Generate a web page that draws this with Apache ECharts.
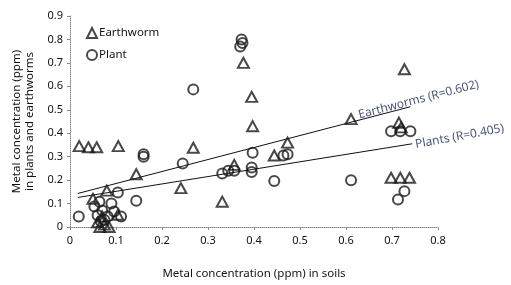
<!DOCTYPE html>
<html>
<head>
<meta charset="utf-8">
<script src="https://cdn.jsdelivr.net/npm/echarts@6/dist/echarts.min.js"></script>
<style>
  html, body { margin: 0; padding: 0; background: #fff; }
  #chart { width: 511px; height: 285px; }
</style>
</head>
<body>
<div id="chart"></div>
<script>
// soil concentration (x) vs. concentration in organism (y), ppm
const earthworm = [
  [0.02, 0.345], [0.04, 0.34], [0.058, 0.34], [0.105, 0.345],
  [0.144, 0.225], [0.241, 0.166], [0.268, 0.338], [0.331, 0.108],
  [0.377, 0.70], [0.395, 0.555], [0.397, 0.43], [0.357, 0.265],
  [0.444, 0.305], [0.473, 0.36], [0.611, 0.46], [0.727, 0.673],
  [0.715, 0.445], [0.72, 0.425], [0.698, 0.21], [0.718, 0.21],
  [0.738, 0.21], [0.05, 0.12], [0.08, 0.155], [0.104, 0.052],
  [0.06, 0.02], [0.065, 0.0], [0.075, 0.01], [0.085, 0.0], [0.07, 0.045]
];
const plant = [
  [0.019, 0.045], [0.104, 0.147], [0.144, 0.112], [0.16, 0.31],
  [0.16, 0.30], [0.245, 0.271], [0.268, 0.587], [0.373, 0.80],
  [0.375, 0.785], [0.37, 0.77], [0.397, 0.317], [0.357, 0.24],
  [0.344, 0.24], [0.331, 0.228], [0.395, 0.254], [0.395, 0.235],
  [0.444, 0.196], [0.473, 0.31], [0.464, 0.305], [0.611, 0.199],
  [0.727, 0.153], [0.713, 0.117], [0.698, 0.408], [0.718, 0.408],
  [0.74, 0.408], [0.053, 0.087], [0.064, 0.108], [0.096, 0.066],
  [0.082, 0.045], [0.067, 0.024], [0.111, 0.045], [0.07, 0.07],
  [0.09, 0.1], [0.06, 0.05], [0.075, 0.03]
];
// trend line end points
const earthwormFit = [[0.017, 0.143], [0.74, 0.513]];
const plantFit = [[0.017, 0.126], [0.744, 0.355]];
const fitNames = ['Earthworms (R=0.602)', 'Plants (R=0.405)'];

const xTicks = ['0', '0.1', '0.2', '0.3', '0.4', '0.5', '0.6', '0.7', '0.8'];
const yTicks = ['0', '0.1', '0.2', '0.3', '0.4', '0.5', '0.6', '0.7', '0.8', '0.9'];

const font = 'Noto Sans';
const ink = '#111';
const blue = '#162456';

const chart = echarts.init(document.getElementById('chart'));

const axisCommon = {
  axisLine: { show: true, lineStyle: { color: '#888', type: 'dotted', width: 1 } },
  axisTick: { show: true, length: 3, lineStyle: { color: '#888' } },
  splitLine: { show: false },
  nameTextStyle: { fontFamily: font, fontSize: 11.5, color: ink, lineHeight: 13 },
};

chart.setOption({
  animation: false,
  grid: { left: 70, right: 73, top: 16, bottom: 54 },
  legend: {
    orient: 'vertical',
    left: 81,
    top: 22,
    itemWidth: 10,
    itemHeight: 10,
    itemGap: 10,
    data: ['Earthworm', 'Plant'],
    textStyle: { fontFamily: font, fontSize: 11.5, color: ink, padding: [0, 0, 0, -3] },
  },
  xAxis: Object.assign({}, axisCommon, {
    type: 'value', min: 0, max: 0.8, interval: 0.1,
    name: 'Metal concentration (ppm) in soils',
    nameLocation: 'middle', nameGap: 40,
    axisLabel: {
      fontFamily: font, fontSize: 11, color: ink, margin: 8,
      formatter: (v) => xTicks[Math.round(v * 10)]
    },
  }),
  yAxis: Object.assign({}, axisCommon, {
    type: 'value', min: 0, max: 0.9, interval: 0.1,
    name: 'Metal concentration (ppm)\nin plants and earthworms',
    nameLocation: 'middle', nameGap: 33, nameRotate: 90,
    axisLabel: {
      fontFamily: font, fontSize: 11, color: ink, margin: 7,
      formatter: (v) => yTicks[Math.round(v * 10)]
    },
  }),
  series: [
    {
      name: 'Earthworm', type: 'scatter', data: earthworm,
      symbol: 'triangle', symbolSize: [11, 10],
      itemStyle: { color: 'rgba(255,255,255,0)', borderColor: '#1a1a1a', borderWidth: 2 },
      z: 3,
    },
    {
      name: 'Plant', type: 'scatter', data: plant,
      symbol: 'circle', symbolSize: 10,
      itemStyle: { color: 'rgba(255,255,255,0)', borderColor: '#1a1a1a', borderWidth: 2 },
      z: 3,
    },
    {
      name: 'earthwormFit', type: 'line', data: earthwormFit,
      symbol: 'none', lineStyle: { color: '#111', width: 1 }, z: 4,
    },
    {
      name: 'plantFit', type: 'line', data: plantFit,
      symbol: 'none', lineStyle: { color: '#111', width: 1 }, z: 4,
    },
    {
      name: 'fitLabels', type: 'scatter', symbolSize: 0, clip: false,
      data: [
        { value: [0.758, 0.543], label: { formatter: fitNames[0], rotate: 14.5 } },
        { value: [0.847, 0.386], label: { formatter: fitNames[1], rotate: 10.5 } },
      ],
      label: {
        show: true, position: 'inside',
        fontFamily: font, fontSize: 12, color: blue,
      },
      silent: true, z: 5,
    },
  ],
});
</script>
</body>
</html>
